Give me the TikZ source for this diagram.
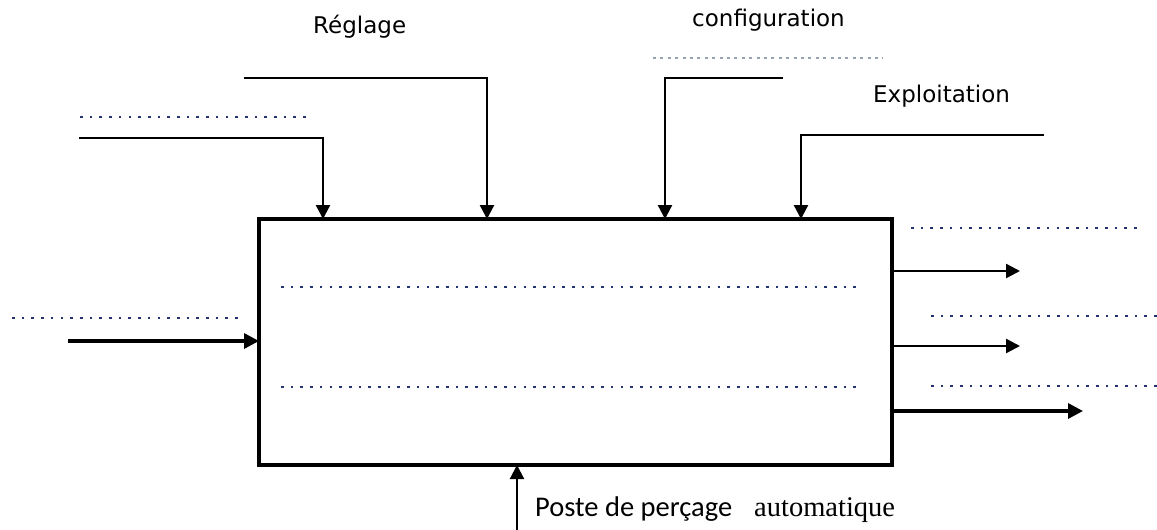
\documentclass[tikz,border=0pt]{standalone}
\usepackage{fontspec}
\usetikzlibrary{arrows.meta}
\newfontfamily\lblfont{DejaVu Sans}
\newfontfamily\calfont{Carlito}
\newfontfamily\tmsfont{Liberation Serif}
\definecolor{dotnavy}{rgb}{0.14,0.2,0.45}
\definecolor{dashgray}{rgb}{0.6,0.64,0.72}
\tikzset{
  mainbox/.style={draw, line width=3.2pt, rectangle, inner sep=0pt, minimum width=633pt, minimum height=246pt},
  flow/.style={line width=2.4pt, -{Triangle[length=14pt,width=14pt]}},
  thickflow/.style={line width=3.4pt, -{Triangle[length=15pt,width=15pt]}},
  plainline/.style={line width=2.8pt},
  dotline/.style={draw=dotnavy, line width=2.6pt, dash pattern=on 2.6pt off 7.1pt},
  dashline/.style={draw=dashgray, line width=1.3pt, dash pattern=on 3pt off 4.4pt},
  lbl/.style={font=\lblfont\fontsize{23pt}{27pt}\selectfont, inner sep=0pt, anchor=base west},
}
\begin{document}
\begin{tikzpicture}[x=1pt, y=-1pt]
\useasboundingbox (0,0) rectangle (1157,530);
% main box
\node[mainbox] (box) at (575.5,342) {};
% edge points on the box
\coordinate (t1) at (323,219);
\coordinate (t2) at (487,219);
\coordinate (t3) at (665,219);
\coordinate (t4) at (801,219);
\coordinate (wIn) at (259,341);
\coordinate (bIn) at (517,465);
\coordinate (e1) at (892,271);
\coordinate (e2) at (892,346);
\coordinate (e3) at (892,411);
% free ends
\coordinate (s1) at (79,138);
\coordinate (s2) at (244,78);
\coordinate (s3) at (783,78);
\coordinate (s4) at (1044,135);
\coordinate (sIn) at (68,341);
\coordinate (sB) at (517,530);
\coordinate (o1) at (1020,271);
\coordinate (o2) at (1020,346);
\coordinate (o3) at (1083,411);
% top controls
\draw[plainline] (s1) -| (323,150);
\draw[flow] (323,136.6) -- (t1);
\draw[line width=2.2pt] (s2) -| (487,150);
\draw[flow] (487,77) -- (t2);
\draw[plainline] (s3) -| (665,150);
\draw[flow] (665,76.6) -- (t3);
\draw[line width=2.2pt] (s4) -| (801,150);
\draw[flow] (801,134) -- (t4);
% left input
\draw[thickflow] (sIn) -- (wIn);
% bottom support
\draw[line width=2.2pt, -{Triangle[length=14pt,width=14pt]}] (sB) -- (bIn);
% outputs
\draw[flow] (e1) -- (o1);
\draw[flow] (e2) -- (o2);
\draw[thickflow] (e3) -- (o3);
% dotted placeholders
\draw[dotline] (80,117) -- (307,117);
\draw[dotline] (12,318) -- (240,318);
\draw[dotline] (281,287) -- (860,287);
\draw[dotline] (281,387) -- (860,387);
\draw[dotline] (911,228) -- (1139,228);
\draw[dotline] (931,316) -- (1157,316);
\draw[dotline] (931,386) -- (1157,386);
\draw[dashline] (653,58) -- (883,58);
% labels
\node[lbl] (reglage) at (313,33) {Réglage};
\node[lbl] (config) at (692,27) {configuration};
\node[lbl] (exploit) at (873,102) {Exploitation};
\node[font=\calfont\fontsize{28.5pt}{32pt}\selectfont, inner sep=0pt, anchor=base west] (poste) at (535,516) {Poste de perçage};
\node[font=\tmsfont\fontsize{28.5pt}{32pt}\selectfont, inner sep=0pt, anchor=base west] (auto) at (754,516) {automatique};
\end{tikzpicture}
\end{document}
